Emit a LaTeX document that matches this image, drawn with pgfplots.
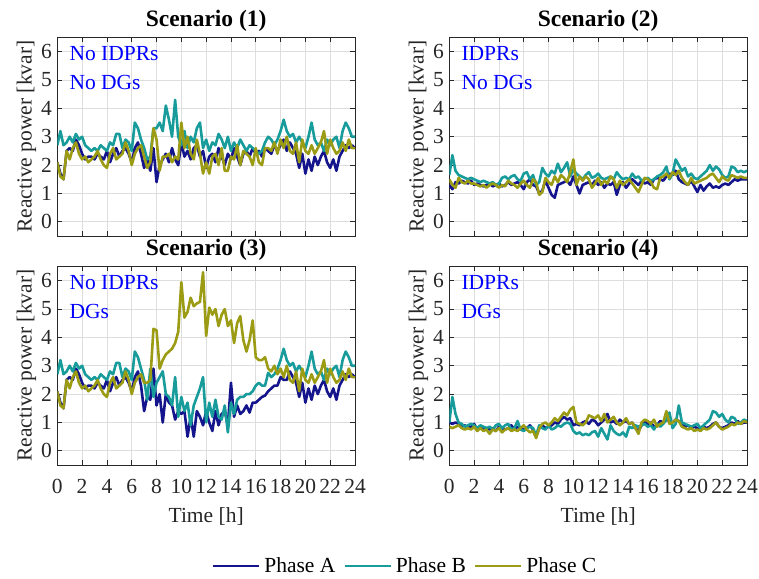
\documentclass[border=0pt]{standalone}
\usepackage{fontspec}
\setmainfont{Liberation Serif}
\usepackage{pgfplots}
\usepackage{pgfplotstable}
\pgfplotsset{compat=1.18}
\definecolor{phA}{RGB}{20,20,140}
\definecolor{phB}{RGB}{23,155,155}
\definecolor{phC}{RGB}{155,155,20}
\definecolor{gridc}{RGB}{222,222,222}
\definecolor{axc}{RGB}{40,40,40}
\newcommand\fs{\fontsize{21.5}{24}\selectfont}

\pgfplotstableread{
t a b c
0 2.1 2.7 2.1
0.25 1.7 3.2 1.6
0.5 1.5 2.7 1.5
0.75 2.5 2.8 2.5
1 2.6 3.0 2.2
1.25 2.5 2.8 2.6
1.5 2.9 3.1 2.8
1.75 2.7 2.9 2.4
2 2.4 3.0 2.2
2.25 2.2 2.7 2.3
2.5 2.3 2.6 2.1
2.75 2.3 2.5 2.2
3 2.2 2.6 2.3
3.25 2.4 2.5 2.5
3.5 2.3 2.7 2.2
3.75 2.2 2.6 2.0
4 2.5 2.5 1.9
4.25 2.1 2.8 2.4
4.5 2.4 2.7 2.6
4.75 2.6 3.1 2.2
5 2.3 3.1 2.3
5.25 2.5 2.6 2.4
5.5 2.6 2.9 2.8
5.75 2.4 2.8 2.5
6 2.1 2.5 2.0
6.25 2.6 3.5 2.4
6.5 2.8 3.3 2.6
6.75 2.4 2.9 2.7
7 1.9 2.6 2.3
7.25 2.2 2.2 1.9
7.5 1.8 2.3 2.1
7.75 2.6 3.3 3.3
8 1.4 3.3 2.9
8.25 2.0 3.5 1.8
8.5 2.2 3.2 2.3
8.75 2.4 4.1 2.3
9 2.1 3.6 2.4
9.25 2.6 3.0 2.1
9.5 2.2 4.3 2.3
9.75 2.0 3.0 2.2
10 2.8 2.7 3.5
10.25 2.3 3.2 2.6
10.5 2.5 2.6 3.0
10.75 2.2 3.0 2.4
11 2.6 2.8 2.2
11.25 2.7 3.3 2.9
11.5 2.3 3.5 2.4
11.75 2.5 2.6 1.7
12 1.9 2.9 2.1
12.25 2.3 2.5 1.7
12.5 2.4 2.8 2.3
12.75 2.1 2.7 2.4
13 2.6 3.1 2.0
13.25 2.3 2.9 2.6
13.5 2.0 2.6 1.8
13.75 2.4 3.0 1.8
14 2.2 2.5 2.3
14.25 2.6 2.8 2.2
14.5 2.3 2.6 2.7
14.75 2.0 2.9 2.0
15 2.4 2.7 2.5
15.25 2.5 2.5 2.4
15.5 2.3 2.7 2.3
15.75 2.6 2.6 2.0
16 2.4 2.5 2.6
16.25 2.5 2.4 2.1
16.5 2.3 2.5 2.0
16.75 2.6 2.8 2.6
17 2.5 3.0 2.6
17.25 2.4 2.9 2.5
17.5 2.7 2.7 2.8
17.75 2.5 2.9 2.4
18 2.7 3.2 2.9
18.25 2.9 3.6 2.6
18.5 2.5 3.2 3.0
18.75 2.8 3.0 2.5
19 2.6 3.1 2.4
19.25 2.4 2.8 2.8
19.5 1.9 3.0 2.1
19.75 2.4 2.8 2.9
20 1.7 2.6 2.5
20.25 2.2 3.0 2.4
20.5 1.8 3.5 2.7
20.75 2.3 2.9 2.4
21 2.0 2.7 2.6
21.25 2.3 2.8 2.8
21.5 2.5 2.5 3.2
21.75 2.1 2.9 2.4
22 1.9 2.7 2.9
22.25 2.2 2.9 2.6
22.5 1.8 3.0 2.4
22.75 2.3 2.6 2.5
23 2.5 3.2 2.8
23.25 2.7 3.5 2.5
23.5 2.6 3.3 2.9
23.75 2.7 3.0 2.6
24 2.6 3.0 2.6
}\sone

\pgfplotstableread{
t a b c
0 1.3 1.65 1.5
0.25 1.15 2.35 1.3
0.5 1.4 1.8 1.2
0.75 1.35 1.65 1.55
1 1.45 1.6 1.4
1.25 1.4 1.55 1.35
1.5 1.35 1.5 1.45
1.75 1.45 1.55 1.35
2 1.3 1.5 1.35
2.25 1.35 1.45 1.3
2.5 1.3 1.4 1.25
2.75 1.25 1.45 1.3
3 1.3 1.4 1.2
3.25 1.35 1.35 1.3
3.5 1.25 1.4 1.35
3.75 1.3 1.3 1.3
4 1.35 1.35 1.2
4.25 1.25 1.55 1.3
4.5 1.3 1.6 1.25
4.75 1.4 1.5 1.45
5 1.3 1.6 1.35
5.25 1.35 1.65 1.3
5.5 1.4 1.5 1.2
5.75 1.3 1.45 1.35
6 1.15 1.7 1.45
6.25 1.4 1.75 1.3
6.5 1.5 1.5 1.2
6.75 1.3 1.65 1.5
7 1.25 1.3 1.4
7.25 1.0 1.4 0.95
7.5 1.1 1.9 1.05
7.75 1.45 1.7 1.55
8 1.2 1.6 1.4
8.25 0.95 1.8 1.3
8.5 0.85 1.7 1.6
8.75 1.3 2.05 1.4
9 1.35 1.75 1.65
9.25 1.4 1.9 1.55
9.5 1.45 2.1 1.4
9.75 1.3 1.6 1.75
10 1.6 1.85 2.2
10.25 1.3 1.7 1.3
10.5 1.0 1.6 1.6
10.75 1.3 1.5 1.45
11 1.35 1.65 1.6
11.25 1.4 1.75 1.5
11.5 1.3 1.55 1.2
11.75 1.45 1.6 1.35
12 1.3 1.7 1.55
12.25 1.4 1.55 1.3
12.5 1.2 1.5 1.45
12.75 1.35 1.55 1.35
13 1.3 1.6 1.6
13.25 1.4 1.5 1.5
13.5 0.95 1.75 1.2
13.75 1.3 1.6 1.45
14 1.4 1.5 1.3
14.25 1.2 1.55 1.4
14.5 1.35 1.5 1.5
14.75 1.5 1.7 1.35
15 1.4 1.55 1.2
15.25 1.3 1.6 1.05
15.5 1.45 1.45 1.3
15.75 1.35 1.5 1.55
16 1.4 1.55 1.5
16.25 1.3 1.45 1.4
16.5 1.5 1.5 1.2
16.75 1.55 1.6 1.15
17 1.5 1.65 1.55
17.25 1.45 1.75 1.6
17.5 1.6 1.95 1.7
17.75 1.7 1.5 1.55
18 1.65 1.7 1.75
18.25 1.8 2.2 1.65
18.5 1.5 2.0 1.8
18.75 1.4 1.8 1.55
19 1.35 1.9 1.4
19.25 1.3 1.6 1.3
19.5 1.45 1.7 1.55
19.75 1.25 1.55 1.35
20 1.05 1.5 1.4
20.25 1.3 1.6 1.45
20.5 1.1 1.7 1.5
20.75 1.25 1.8 1.55
21 1.35 2.0 1.65
21.25 1.2 1.8 1.7
21.5 1.25 1.95 1.55
21.75 1.2 1.85 1.4
22 1.3 1.65 1.6
22.25 1.35 1.55 1.5
22.5 1.3 1.6 1.45
22.75 1.4 1.95 1.65
23 1.5 1.9 1.6
23.25 1.45 1.75 1.55
23.5 1.5 1.8 1.6
23.75 1.5 1.75 1.55
24 1.5 1.8 1.55
}\stwo

\pgfplotstableread{
t a b c
0 2.1 2.7 2.1
0.25 1.7 3.2 1.6
0.5 1.5 2.7 1.5
0.75 2.5 2.8 2.5
1 2.6 3.0 2.2
1.25 2.5 2.8 2.6
1.5 2.9 3.1 2.8
1.75 2.7 2.9 2.4
2 2.4 3.0 2.2
2.25 2.2 2.7 2.3
2.5 2.3 2.6 2.1
2.75 2.3 2.5 2.2
3 2.2 2.6 2.3
3.25 2.4 2.5 2.5
3.5 2.3 2.7 2.2
3.75 2.2 2.6 2.0
4 2.5 2.5 1.9
4.25 2.1 2.8 2.4
4.5 2.4 2.7 2.6
4.75 2.6 3.1 2.2
5 2.3 3.1 2.3
5.25 2.5 2.6 2.4
5.5 2.6 2.9 2.8
5.75 2.4 2.8 2.5
6 2.1 2.5 2.0
6.25 2.6 3.5 2.4
6.5 2.8 3.3 2.6
6.75 2.3 2.9 2.7
7 1.4 2.5 2.4
7.25 1.9 1.8 2.4
7.5 1.8 2.9 2.5
7.75 2.9 1.9 4.3
8 1.6 2.4 4.25
8.25 2.0 2.6 2.9
8.5 1.0 2.8 3.2
8.75 2.0 2.0 3.4
9 1.7 1.9 3.5
9.25 1.6 1.6 3.6
9.5 1.1 2.6 3.8
9.75 1.4 1.2 4.2
10 1.3 1.9 5.95
10.25 1.4 1.4 4.7
10.5 0.5 1.7 4.9
10.75 1.2 0.9 5.4
11 0.5 1.6 5.1
11.25 1.4 1.9 5.2
11.5 1.2 2.2 5.25
11.75 0.9 2.6 6.3
12 1.4 1.0 4.05
12.25 1.0 1.7 5.05
12.5 0.7 1.2 4.8
12.75 1.4 1.8 5.0
13 0.9 1.2 4.4
13.25 1.3 1.1 4.8
13.5 1.4 1.6 5.0
13.75 0.9 0.65 4.4
14 2.4 1.7 4.6
14.25 1.2 1.3 3.8
14.5 1.6 1.8 4.5
14.75 1.3 1.9 4.75
15 1.4 1.9 3.9
15.25 1.6 2.0 3.5
15.5 1.35 2.0 3.9
15.75 1.7 2.1 4.6
16 1.7 2.3 3.3
16.25 1.8 2.4 3.2
16.5 1.9 2.3 3.2
16.75 1.95 2.3 3.3
17 2.1 2.75 2.9
17.25 2.2 2.6 2.8
17.5 2.3 2.7 3.0
17.75 2.3 2.9 2.7
18 2.6 3.2 2.9
18.25 2.5 3.6 2.6
18.5 2.5 3.2 3.0
18.75 2.8 3.0 2.5
19 2.6 3.1 2.4
19.25 2.4 2.8 2.8
19.5 1.9 3.0 2.1
19.75 2.4 2.8 2.9
20 1.7 2.6 2.5
20.25 2.2 3.0 2.4
20.5 1.8 3.5 2.7
20.75 2.3 2.9 2.4
21 2.0 2.7 2.6
21.25 2.3 2.8 2.8
21.5 2.5 2.5 3.2
21.75 2.1 2.9 2.4
22 1.9 2.7 2.9
22.25 2.2 2.9 2.6
22.5 1.8 3.0 2.4
22.75 2.3 2.6 2.5
23 2.5 3.2 2.8
23.25 2.7 3.5 2.5
23.5 2.6 3.3 2.9
23.75 2.7 3.0 2.6
24 2.6 3.0 2.6
}\sthree

\pgfplotstableread{
t a b c
0 1.0 1.0 0.85
0.25 0.95 1.9 0.8
0.5 1.0 1.3 0.85
0.75 0.95 1.0 0.9
1 0.85 0.95 0.8
1.25 0.9 0.85 0.75
1.5 0.8 0.9 0.8
1.75 0.85 0.95 0.75
2 0.95 0.9 0.85
2.25 0.75 0.8 0.7
2.5 0.85 0.9 0.8
2.75 0.75 0.85 0.7
3 0.8 0.8 0.75
3.25 0.75 0.85 0.6
3.5 0.8 0.75 0.75
3.75 0.7 0.9 0.7
4 0.85 0.95 0.8
4.25 0.8 0.8 0.65
4.5 0.75 0.9 0.75
4.75 0.8 0.95 0.8
5 0.9 0.75 0.7
5.25 0.75 0.8 0.75
5.5 0.85 1.05 0.7
5.75 0.8 0.75 0.8
6 0.75 0.7 0.9
6.25 0.8 0.8 0.75
6.5 0.9 0.85 0.65
6.75 0.75 0.8 0.7
7 0.5 0.55 0.45
7.25 0.8 0.9 0.8
7.5 0.9 0.8 0.95
7.75 0.8 0.75 1.0
8 0.85 0.9 0.9
8.25 0.9 0.75 1.0
8.5 1.0 0.8 1.15
8.75 0.95 0.9 1.05
9 1.1 0.85 1.2
9.25 1.2 0.95 1.35
9.5 1.1 1.0 1.25
9.75 1.15 0.95 1.45
10 0.9 0.7 1.55
10.25 0.95 0.6 1.0
10.5 0.9 0.65 0.95
10.75 1.0 0.55 0.9
11 1.05 0.6 1.0
11.25 0.95 0.55 1.25
11.5 1.1 0.65 1.2
11.75 1.05 0.7 1.15
12 0.9 0.5 1.25
12.25 1.0 0.8 1.05
12.5 1.1 0.6 1.3
12.75 1.3 0.4 1.0
13 1.0 0.9 1.1
13.25 1.05 0.7 1.2
13.5 0.95 0.6 1.0
13.75 1.1 0.55 0.9
14 1.0 0.65 1.0
14.25 1.05 0.5 1.15
14.5 0.95 0.85 0.95
14.75 1.0 0.8 1.0
15 0.8 0.9 0.8
15.25 0.7 0.85 0.6
15.5 0.9 0.9 1.0
15.75 1.05 0.95 1.1
16 0.95 0.85 1.05
16.25 1.0 0.9 0.95
16.5 0.85 0.75 1.1
16.75 0.9 0.95 0.85
17 1.05 0.85 0.95
17.25 1.0 0.95 1.0
17.5 1.1 1.1 1.4
17.75 1.05 1.35 0.95
18 1.0 0.8 1.0
18.25 1.1 0.95 1.1
18.5 1.05 1.6 1.05
18.75 1.0 1.0 0.85
19 0.85 0.95 0.8
19.25 0.9 0.9 0.75
19.5 0.8 0.85 0.8
19.75 0.85 0.9 0.7
20 0.8 0.95 0.75
20.25 0.75 0.8 0.7
20.5 0.85 0.9 0.8
20.75 0.8 1.0 0.75
21 0.85 1.1 0.8
21.25 0.95 1.4 0.9
21.5 1.0 1.35 1.0
21.75 0.85 1.2 0.85
22 0.8 1.3 0.75
22.25 0.85 1.1 0.8
22.5 0.9 1.0 0.85
22.75 1.0 1.2 0.95
23 0.95 1.15 0.9
23.25 1.05 0.95 1.0
23.5 0.95 1.0 0.95
23.75 1.0 1.1 1.05
24 1.0 1.05 1.0
}\sfour

\pgfplotsset{
  myax/.style={
    scale only axis, width=297.7pt, height=198.5pt,
    xmin=0, xmax=24, ymin=-0.5, ymax=6.5,
    xtick={0,2,...,24}, ytick={0,1,...,6},
    grid=major, major grid style={gridc, line width=0.8pt},
    tick align=inside, major tick length=5pt,
    axis line style={axc, line width=0.8pt},
    every tick/.style={axc, line width=0.8pt},
    /pgf/number format/assume math mode=true,
    ticklabel style={font=\fs, text=black!85},
    yticklabel style={xshift=-2pt},
    xticklabel style={anchor=center, yshift=-21.7pt},
    every axis y label/.style={at={(axis description cs:-0.104,0.5)}, rotate=90, anchor=center, font=\fs, text=black!85},
    every axis x label/.style={at={(axis description cs:0.5,0)}, anchor=center, yshift=-51.7pt, font=\fs, text=black!85},
    ylabel={Reactive power [kvar]},
    every axis title/.style={at={(axis description cs:0.5,1)}, anchor=center, yshift=17pt, font=\fontsize{23.5}{26}\selectfont\bfseries},
    every axis plot/.append style={line width=2.6pt, line join=round},
    legend image code/.code={\draw[##1] (0pt,0pt) -- (46pt,0pt);},
  },
  topax/.style={myax, xticklabels={}},
  botax/.style={myax, xlabel={Time [h]}},
}

\begin{document}
\begin{tikzpicture}
\path[use as bounding box] (0pt,0pt) rectangle (759pt,578pt);

\begin{axis}[topax, at={(57.3pt,342pt)}, anchor=south west, title={Scenario (1)}]
\addplot[phA] table[x=t,y=a]{\sone};
\addplot[phB] table[x=t,y=b]{\sone};
\addplot[phC] table[x=t,y=c]{\sone};
\node[anchor=west, inner sep=0pt, text=blue, font=\fs] at (axis cs:0.97,5.93) {No IDPRs};
\node[anchor=west, inner sep=0pt, text=blue, font=\fs] at (axis cs:0.97,4.92) {No DGs};
\end{axis}

\begin{axis}[topax, at={(449.3pt,342pt)}, anchor=south west, title={Scenario (2)}]
\addplot[phA] table[x=t,y=a]{\stwo};
\addplot[phB] table[x=t,y=b]{\stwo};
\addplot[phC] table[x=t,y=c]{\stwo};
\node[anchor=west, inner sep=0pt, text=blue, font=\fs] at (axis cs:0.97,5.93) {IDPRs};
\node[anchor=west, inner sep=0pt, text=blue, font=\fs] at (axis cs:0.97,4.92) {No DGs};
\end{axis}

\begin{axis}[botax, at={(57.3pt,113pt)}, anchor=south west, title={Scenario (3)},
  legend columns=3,
  legend style={draw=none, fill=none, font=\fs, at={(axis description cs:1.168,-0.509)}, anchor=center,
    /tikz/every odd column/.append style={column sep=2pt},
    /tikz/every even column/.append style={column sep=6pt}}]
\addplot[phA] table[x=t,y=a]{\sthree};
\addplot[phB] table[x=t,y=b]{\sthree};
\addplot[phC] table[x=t,y=c]{\sthree};
\node[anchor=west, inner sep=0pt, text=blue, font=\fs] at (axis cs:0.97,5.93) {No IDPRs};
\node[anchor=west, inner sep=0pt, text=blue, font=\fs] at (axis cs:0.97,4.92) {DGs};
\legend{Phase A, Phase B, Phase C}
\end{axis}

\begin{axis}[botax, at={(449.3pt,113pt)}, anchor=south west, title={Scenario (4)}]
\addplot[phA] table[x=t,y=a]{\sfour};
\addplot[phB] table[x=t,y=b]{\sfour};
\addplot[phC] table[x=t,y=c]{\sfour};
\node[anchor=west, inner sep=0pt, text=blue, font=\fs] at (axis cs:0.97,5.93) {IDPRs};
\node[anchor=west, inner sep=0pt, text=blue, font=\fs] at (axis cs:0.97,4.92) {DGs};
\end{axis}
\end{tikzpicture}
\end{document}
